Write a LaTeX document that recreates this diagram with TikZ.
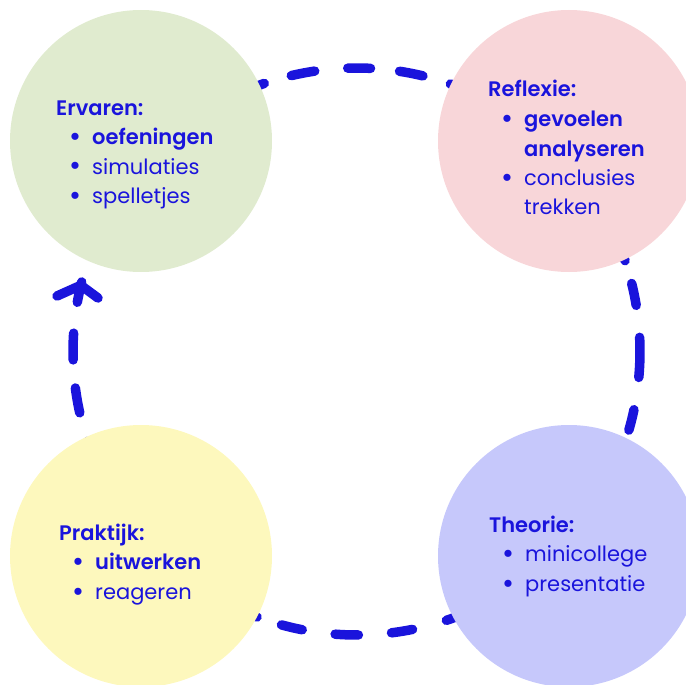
\documentclass[tikz,border=0pt]{standalone}
\usepackage{fontspec}
\setmainfont{Poppins}[BoldFont={Poppins SemiBold}]
\usetikzlibrary{calc}
\definecolor{ink}{HTML}{1A14DC}
\definecolor{ervarenfill}{HTML}{E0EBCF}
\definecolor{reflexiefill}{HTML}{F8D6D9}
\definecolor{praktijkfill}{HTML}{FDF8BD}
\definecolor{theoriefill}{HTML}{C6C8FB}
\newcommand{\ringR}{283.5}
\newcommand{\bul}{\hspace*{19pt}\makebox[0pt]{\raisebox{-2pt}{\fontsize{29}{29}\selectfont\textbullet}}\hspace*{17pt}}
\newcommand{\cont}{\hspace*{36pt}}
\begin{document}
\begin{tikzpicture}[x=1pt,y=-1pt,
  ringline/.style={draw=ink, line width=9.5pt, line cap=round, line join=round},
  bubble/.style={circle, inner sep=0pt, minimum size=262pt, draw=none},
  blocktext/.style={anchor=base west, inner sep=0pt, text=ink, font=\fontsize{21}{29.5}\selectfont}]
\useasboundingbox (0,0) rectangle (686,685);
\clip (0,0) rectangle (686,685);
\coordinate (ring) at (356.5,351.5);
% Ervaren -> Reflexie
\draw[ringline, dash pattern=on 22.8pt off 28.2pt on 23.8pt off 33.2pt on 22.8pt off 29.2pt on 23.8pt off 28.7pt on 23.3pt off 80pt]
  ($(ring)+(246.4:\ringR)$) arc[start angle=246.4, end angle=294.0, radius=\ringR];
% Reflexie -> Theorie
\draw[ringline, dash pattern=on 23.8pt off 23.8pt on 22.3pt off 32.2pt on 40.1pt off 32.7pt on 21.3pt off 80pt]
  ($(ring)+(336.5:\ringR)$) arc[start angle=336.5, end angle=376.1, radius=\ringR];
% Theorie -> Praktijk
\draw[ringline, dash pattern=on 23.3pt off 35.1pt on 21.3pt off 33.2pt on 23.3pt off 33.2pt on 21.3pt off 25.7pt on 23.3pt off 80pt]
  ($(ring)+(66.8:\ringR)$) arc[start angle=66.8, end angle=115.2, radius=\ringR];
% Praktijk -> Ervaren (with arrow)
\draw[ringline, dash pattern=on 23.3pt off 29.7pt on 25.2pt off 28.2pt on 26.7pt off 31.2pt on 20.8pt off 80pt]
  ($(ring)+(156.8:\ringR)$) arc[start angle=156.8, end angle=194.2, radius=\ringR];
\coordinate (tip) at ($(ring)+(193.5:\ringR)$);
\coordinate (barbL) at (57,296);
\coordinate (barbR) at (98,298);
\draw[ringline] (barbL) -- (tip) -- (barbR);
% circles
\node[bubble, fill=ervarenfill] (ervaren) at (141,141) {};
\node[bubble, fill=reflexiefill] (reflexie) at (569,141) {};
\node[bubble, fill=praktijkfill] (praktijk) at (141,556) {};
\node[bubble, fill=theoriefill] (theorie) at (569,556) {};
% texts
\node[blocktext] (ervarenTxt) at (56,115) {\begin{tabular}[t]{@{}l@{}}
\bfseries Ervaren:\\
\bul\bfseries oefeningen\\
\bul simulaties\\
\bul spelletjes
\end{tabular}};
\node[blocktext] (reflexieTxt) at (488,97) {\begin{tabular}[t]{@{}l@{}}
\bfseries Reflexie:\\
\bul\bfseries gevoelen\\
\cont\bfseries analyseren\\
\bul conclusies\\
\cont trekken
\end{tabular}};
\node[blocktext] (praktijkTxt) at (59,540) {\begin{tabular}[t]{@{}l@{}}
\bfseries Praktijk:\\
\bul\bfseries uitwerken\\
\bul reageren
\end{tabular}};
\node[blocktext] (theorieTxt) at (489,532) {\begin{tabular}[t]{@{}l@{}}
\bfseries Theorie:\\
\bul minicollege\\
\bul presentatie
\end{tabular}};
\end{tikzpicture}
\end{document}
